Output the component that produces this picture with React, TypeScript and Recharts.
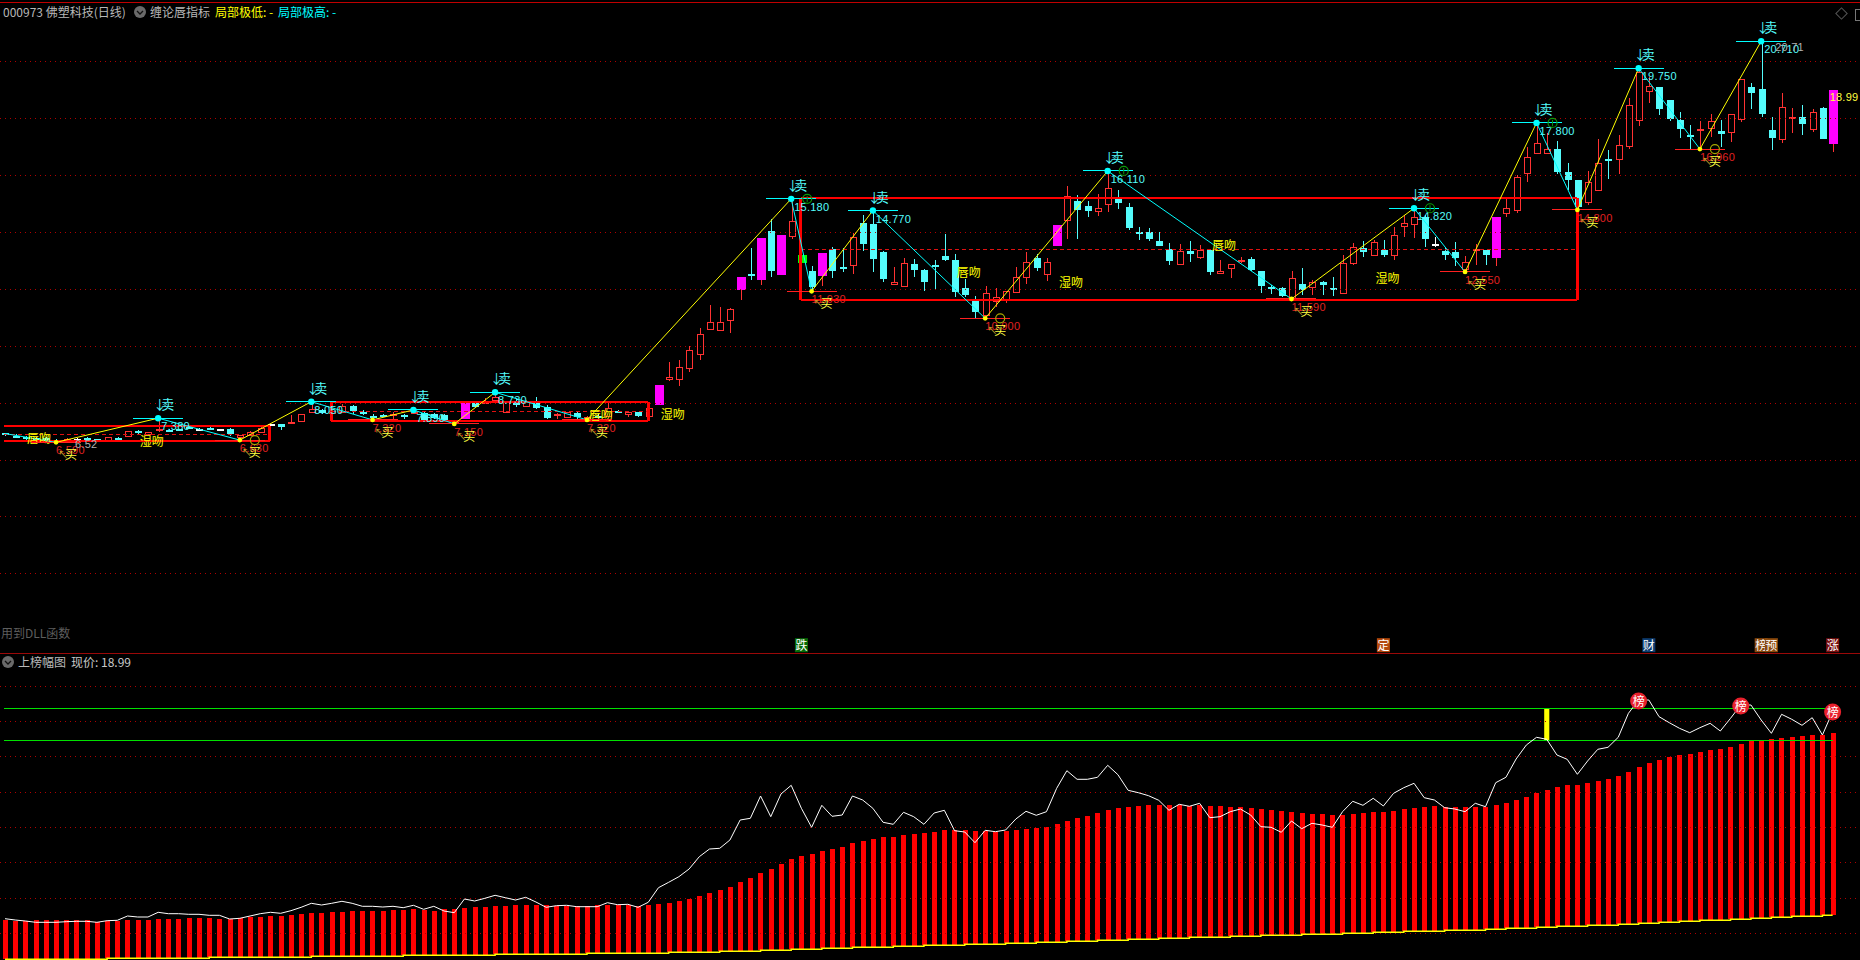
import { ComposedChart, Bar, Line, XAxis, YAxis, ReferenceLine, ReferenceDot, ReferenceArea } from 'recharts';

// ── price panel ─────────────────────────────────────────────────────
const highs = [
  6.95, 6.92, 6.83, 6.82, 6.80, 6.74, 6.78, 6.76, 6.80, 6.75,
  6.82, 6.80, 7.03, 7.04, 6.99, 7.47, 7.08, 7.10, 7.16, 7.14,
  7.15, 7.10, 7.12, 6.89, 7.01, 7.15, 7.28, 7.27, 7.58, 7.63,
  8.05, 7.78, 7.75, 7.97, 7.92, 7.76, 7.62, 7.60, 7.70, 7.60,
  7.76, 7.68, 7.64, 7.60, 7.36, 8.02, 8.03, 8.17, 8.38, 8.08,
  8.17, 8.10, 8.23, 7.95, 7.64, 7.70, 7.67, 7.55, 7.60, 8.03,
  7.75, 7.70, 7.70, 7.84, 8.64, 9.46, 9.52, 10.02, 10.64, 11.45,
  11.38, 11.34, 12.43, 13.44, 13.81, 14.46, 13.91, 15.18, 13.21, 12.82,
  13.28, 13.48, 13.45, 13.98, 14.61, 14.77, 13.33, 12.80, 13.09, 13.06,
  12.71, 13.03, 13.94, 13.23, 12.36, 11.77, 12.12, 12.04, 11.95, 12.77,
  13.30, 13.24, 13.09, 14.26, 15.63, 15.32, 15.10, 15.34, 16.16, 15.49,
  15.02, 14.18, 14.15, 14.03, 13.62, 13.58, 13.70, 13.56, 13.38, 13.03,
  12.88, 13.15, 13.12, 12.66, 12.15, 12.09, 12.64, 12.74, 12.33, 12.30,
  12.42, 13.21, 13.62, 13.70, 13.73, 13.73, 14.20, 14.61, 14.85, 14.62,
  13.85, 13.50, 13.65, 13.17, 13.58, 13.39, 14.53, 15.20, 16.02, 17.01,
  17.85, 17.48, 17.22, 16.43, 15.84, 16.16, 17.28, 16.90, 17.42, 18.71,
  19.77, 19.45, 19.10, 18.66, 18.24, 17.78, 17.93, 18.16, 17.95, 18.15,
  19.38, 19.24, 20.72, 18.05, 18.89, 18.36, 18.47, 18.34, 18.40, 19.01,
];
const opens = [
  6.94, 6.84, 6.81, 6.79, 6.77, 6.70, 6.67, 6.74, 6.79, 6.73,
  6.70, 6.79, 6.85, 7.02, 6.92, 7.05, 7.05, 7.08, 7.15, 7.10,
  7.12, 7.09, 7.08, 6.82, 6.88, 7.00, 7.26, 7.26, 7.29, 7.38,
  7.69, 7.76, 7.65, 7.70, 7.90, 7.68, 7.55, 7.58, 7.61, 7.58,
  7.66, 7.65, 7.61, 7.58, 7.30, 7.43, 8.00, 8.00, 8.10, 7.68,
  7.99, 7.90, 8.05, 7.87, 7.57, 7.52, 7.65, 7.47, 7.55, 7.54,
  7.72, 7.61, 7.69, 7.56, 7.93, 8.84, 8.84, 9.25, 9.74, 10.61,
  10.58, 10.93, 11.99, 12.55, 12.33, 14.05, 12.50, 13.87, 13.21, 12.64,
  12.47, 13.41, 12.80, 12.87, 14.33, 14.30, 13.31, 12.18, 12.13, 12.89,
  12.68, 12.86, 13.17, 13.03, 12.06, 11.59, 11.10, 11.59, 11.66, 11.92,
  12.44, 13.09, 12.55, 13.52, 14.45, 15.10, 14.93, 14.76, 15.01, 15.20,
  14.89, 14.03, 14.00, 13.70, 13.41, 12.90, 13.35, 13.15, 13.37, 12.56,
  12.74, 13.03, 13.06, 12.64, 12.07, 12.04, 11.68, 12.18, 12.07, 12.25,
  12.04, 11.88, 12.94, 13.46, 13.21, 13.38, 13.20, 14.24, 14.29, 14.55,
  13.58, 13.36, 13.30, 12.71, 13.39, 13.38, 13.11, 14.67, 14.79, 16.10,
  16.80, 16.78, 16.93, 16.11, 15.84, 15.08, 15.49, 16.59, 16.57, 17.05,
  17.95, 18.98, 19.10, 18.65, 17.95, 17.43, 17.63, 17.68, 17.57, 17.54,
  17.98, 19.11, 19.04, 17.60, 17.29, 18.05, 18.05, 17.63, 18.37, 17.11,
];
const closes = [
  6.88, 6.81, 6.74, 6.70, 6.66, 6.63, 6.74, 6.72, 6.77, 6.72,
  6.80, 6.77, 7.02, 6.96, 6.98, 7.10, 7.02, 7.06, 7.13, 7.09,
  7.10, 7.08, 6.90, 6.88, 7.00, 7.13, 7.24, 7.16, 7.35, 7.61,
  7.80, 7.65, 7.72, 7.90, 7.72, 7.66, 7.53, 7.52, 7.63, 7.50,
  7.70, 7.41, 7.48, 7.41, 7.33, 8.02, 7.87, 8.04, 8.22, 8.05,
  7.97, 8.08, 7.82, 7.47, 7.62, 7.68, 7.51, 7.52, 7.50, 7.83,
  7.71, 7.68, 7.55, 7.82, 8.64, 8.92, 9.26, 9.86, 10.42, 10.84,
  10.84, 11.30, 12.43, 12.52, 13.81, 12.64, 13.91, 14.40, 12.94, 12.09,
  13.28, 12.64, 12.78, 13.84, 13.59, 13.07, 12.37, 12.25, 12.91, 12.68,
  12.26, 12.84, 13.03, 11.92, 11.80, 11.21, 11.86, 11.74, 11.93, 12.42,
  12.95, 12.76, 12.95, 14.26, 15.27, 14.79, 14.75, 14.85, 15.55, 15.03,
  14.14, 14.00, 13.77, 13.52, 13.01, 13.34, 13.24, 13.37, 12.62, 12.63,
  12.88, 13.04, 12.68, 12.13, 12.05, 11.77, 12.39, 11.98, 12.25, 12.16,
  12.03, 12.94, 13.50, 13.32, 13.65, 13.21, 13.90, 14.32, 14.53, 13.77,
  13.57, 13.21, 13.11, 12.95, 13.40, 13.21, 14.53, 14.85, 15.94, 16.64,
  17.13, 16.92, 16.12, 15.84, 14.90, 15.76, 16.43, 16.58, 17.06, 18.47,
  19.65, 19.16, 18.35, 17.99, 17.64, 17.42, 17.64, 17.91, 17.47, 18.15,
  19.38, 18.90, 18.16, 17.32, 18.42, 18.07, 17.81, 18.22, 17.28, 19.01,
];
const lows = [
  6.84, 6.76, 6.72, 6.66, 6.63, 6.62, 6.65, 6.70, 6.65, 6.71,
  6.69, 6.71, 6.84, 6.88, 6.90, 7.00, 7.00, 7.05, 7.12, 7.05,
  7.06, 7.07, 6.85, 6.70, 6.86, 6.99, 7.20, 7.05, 7.27, 7.36,
  7.65, 7.60, 7.60, 7.68, 7.60, 7.58, 7.41, 7.50, 7.43, 7.43,
  7.60, 7.38, 7.45, 7.38, 7.26, 7.43, 7.85, 7.99, 8.05, 7.65,
  7.87, 7.88, 7.80, 7.45, 7.44, 7.50, 7.45, 7.41, 7.48, 7.52,
  7.68, 7.51, 7.51, 7.54, 7.93, 8.79, 8.61, 9.10, 9.53, 10.57,
  10.58, 10.48, 11.62, 12.33, 12.15, 12.44, 12.50, 13.77, 12.94, 11.93,
  12.12, 12.41, 12.62, 12.54, 13.36, 12.62, 12.26, 12.15, 12.09, 12.44,
  11.95, 12.01, 13.01, 11.74, 11.74, 10.99, 10.98, 11.39, 11.53, 11.90,
  12.19, 12.65, 12.29, 13.52, 13.77, 13.77, 14.54, 14.59, 14.73, 14.83,
  14.09, 13.73, 13.71, 13.52, 12.86, 12.88, 12.97, 13.06, 12.50, 12.54,
  12.41, 12.91, 12.65, 11.86, 11.84, 11.74, 11.66, 11.80, 11.80, 11.80,
  11.77, 11.86, 12.86, 13.15, 13.21, 13.15, 13.03, 13.85, 13.79, 13.50,
  13.50, 13.03, 12.83, 12.61, 12.86, 12.86, 12.83, 14.55, 14.69, 15.78,
  16.78, 16.76, 16.05, 15.49, 14.79, 14.96, 15.46, 15.88, 16.05, 16.93,
  17.74, 18.54, 18.13, 17.93, 17.33, 16.93, 16.93, 17.36, 17.01, 17.19,
  17.89, 18.33, 18.05, 16.90, 17.15, 17.48, 17.42, 17.54, 17.28, 16.84,
];
const limitUpDays = [45, 64, 72, 74, 76, 80, 103, 146, 179];
const limitDownDays = [78];
const whiteDays = [7, 19, 21, 26, 140];
const priceGrid = [20, 18, 16, 14, 12, 10, 8, 6, 4, 2];

// zigzag pivots, rising legs are yellow and falling legs cyan
const pivotDays = [0, 5, 15, 23, 30, 36, 40, 44, 48, 57, 77, 79, 85, 96, 108, 126, 138, 143, 150, 154, 160, 166, 172];
const pivotPrices = [6.93, 6.62, 7.47, 6.70, 8.05, 7.41, 7.76, 7.27, 8.38, 7.41, 15.18, 11.93, 14.77, 10.98, 16.16, 11.66, 14.85, 12.61, 17.85, 14.79, 19.77, 16.93, 20.72];

const sellDays = [15, 30, 40, 48, 77, 85, 108, 138, 150, 160, 172];
const sellPrices = [7.47, 8.05, 7.76, 8.38, 15.18, 14.77, 16.16, 14.85, 17.85, 19.77, 20.72];
const sellLabels = ['7.380', '8.050', '7.890', '8.730', '15.180', '14.770', '16.110', '14.820', '17.800', '19.750', '20.710'];
const buyDays = [5, 23, 36, 44, 57, 79, 96, 126, 143, 154, 166];
const buyPrices = [6.62, 6.70, 7.41, 7.27, 7.41, 11.93, 10.98, 11.66, 12.61, 14.79, 16.93];
const buyLabels = ['6.590', '6.630', '7.320', '7.150', '7.320', '11.930', '10.900', '11.590', '12.550', '14.800', '16.960'];
const greenRingSells = [77, 108, 138, 150];
const oliveRingBuys = [23, 96, 166];

// consolidation boxes
const boxStart = [-0.1, 31.93, 77.96];
const boxEnd = [25.95, 62.98, 154];
const boxTop = [7.21, 8.05, 15.22];
const boxBottom = [6.67, 7.38, 11.63];
const boxMid = [6.90, 7.71, 13.41];
const boxHasLeft = [false, true, true];

const kissDays = [3.33, 14.37, 58.34, 65.4, 94.4, 104.4, 119.4, 135.4];
const kissPrices = [6.77, 6.68, 7.58, 7.62, 12.6, 12.25, 13.56, 12.39];
const kissLabels = ['唇吻', '湿吻', '唇吻', '湿吻', '唇吻', '湿吻', '唇吻', '湿吻'];

const tagDays = [78, 135, 161, 172, 173, 179];
const tagLabels = ['跌', '定', '财', '榜', '预', '涨'];
const tagColours = ['#066b06', '#b54a0c', '#0c3c70', '#8c4a0c', '#8c4a0c', '#7a1010'];

// ── lower panel ─────────────────────────────────────────────────────
const barTops = [
  40, 39.3, 39.3, 40, 40, 40, 40, 40, 40, 38.3,
  39.3, 39, 40.3, 40, 40, 41, 41, 41, 42, 42,
  42, 41.3, 41.3, 42, 43, 43, 44, 44, 45, 46,
  47, 47, 48, 48, 49, 49, 49, 49, 50, 50,
  50.7, 50, 49, 50.7, 51, 52, 53, 53, 54, 54,
  55, 55, 55, 55, 54, 54, 54, 54, 55, 55,
  55, 55, 54, 55, 56, 57, 59, 61, 64, 67,
  70, 73, 78, 82, 87, 91, 96, 101, 104, 106,
  109, 111, 113, 117, 119, 121, 123, 123, 125, 126,
  127, 128, 130, 130, 130, 129, 129, 128, 129, 130,
  131, 132, 133, 136, 139, 142, 144, 147, 150, 152,
  153, 154, 155, 155, 155, 155, 154, 155, 154, 154,
  153, 153, 152, 151, 150, 149, 148, 147, 146, 146,
  145, 145, 146, 147, 148, 148, 149, 151, 152, 153,
  154, 153.3, 152.7, 153, 153, 153, 155, 157, 160, 163,
  167, 170, 173, 175, 175, 177, 179, 181, 184, 188,
  193, 197, 200, 203, 205, 206, 208, 210, 211, 213,
  216, 219, 219, 221, 222, 223, 224, 225, 225, 227,
];
const barBases = [
  0.7, 0.7, 0.7, 0.7, 0.7, 0.7, 0.7, 0.7, 0.7, 0.7,
  1.7, 1.7, 1.7, 1.7, 1.7, 1.7, 1.7, 1.7, 1.7, 1.7,
  2.7, 2.7, 2.7, 2.7, 2.7, 2.7, 2.7, 2.7, 2.7, 2.7,
  3.7, 3.7, 3.7, 3.7, 3.7, 3.7, 3.7, 3.7, 3.7, 4.7,
  4.7, 4.7, 4.7, 4.7, 4.7, 4.7, 4.7, 4.7, 5.7, 5.7,
  5.7, 5.7, 5.7, 5.7, 5.7, 5.7, 5.7, 6.7, 6.7, 6.7,
  6.7, 6.7, 6.7, 6.7, 6.7, 7.7, 7.7, 7.7, 7.7, 7.7,
  8.7, 8.7, 8.7, 8.7, 9.7, 9.7, 9.7, 10.7, 10.7, 10.7,
  11.7, 11.7, 11.7, 12.7, 12.7, 12.7, 12.7, 13.7, 13.7, 13.7,
  14.7, 14.7, 14.7, 14.7, 15.7, 15.7, 15.7, 15.7, 16.7, 16.7,
  16.7, 17.7, 17.7, 17.7, 18.7, 18.7, 18.7, 19.7, 19.7, 19.7,
  20.7, 20.7, 20.7, 21.7, 21.7, 21.7, 22.7, 22.7, 22.7, 22.7,
  23.7, 23.7, 23.7, 24.7, 24.7, 24.7, 24.7, 25.7, 25.7, 25.7,
  25.7, 26.7, 26.7, 26.7, 27.7, 27.7, 27.7, 28.7, 28.7, 28.7,
  28.7, 29.7, 29.7, 29.7, 29.7, 30.7, 30.7, 31.7, 31.7, 31.7,
  32.7, 32.7, 33.7, 33.7, 33.7, 34.7, 34.7, 34.7, 35.7, 35.7,
  36.7, 36.7, 37.7, 37.7, 38.7, 38.7, 39.7, 39.7, 39.7, 40.7,
  40.7, 41.7, 41.7, 42.7, 42.7, 43.7, 43.7, 43.7, 44.7, 44.7,
];
const whiteLine = [
  41.3, 40, 39, 37.7, 37.7, 37.7, 38.3, 38.7, 38.7, 37.7,
  39.3, 39.7, 44, 43, 43, 47.7, 46.3, 46.3, 45.7, 45.7,
  44.7, 44.7, 41, 41.7, 44, 46.3, 47.7, 46.7, 49.3, 52.7,
  56.7, 55, 56.7, 58.7, 56.7, 53.7, 53.7, 53, 53.7, 52.3,
  54.7, 50.7, 53.7, 49, 47.3, 61, 59, 61.7, 64.7, 62.3,
  60, 62.7, 58, 52.7, 54.3, 54.7, 53.3, 53.3, 53.3, 57.3,
  55.3, 55.7, 52.7, 57.7, 72.3, 77.7, 83.3, 91, 103.3, 111,
  111.7, 120, 140, 141.7, 164, 143.3, 166, 174.7, 151.7, 132.7,
  154.7, 143.7, 145, 164, 160, 151.7, 137.7, 135.7, 147.7, 143.3,
  135.7, 147, 149.7, 129.3, 128, 117.3, 129.7, 128.3, 130, 141,
  148.7, 144.7, 148.3, 171.7, 189.3, 180.7, 180.7, 182.7, 194.7, 185.3,
  169.7, 167.3, 164.3, 159.7, 149.7, 155.7, 153.7, 156.7, 142.3, 143.3,
  148.3, 151, 145, 133.3, 132.7, 127.7, 139, 131.3, 136.7, 135,
  132.7, 148.3, 158.7, 154.7, 161.7, 154, 166.7, 172.3, 176.7, 162.3,
  160, 152.3, 151, 148.3, 156.7, 153.3, 177.3, 182.7, 201, 215,
  222.7, 220.7, 205, 200.7, 185.7, 199, 210.7, 212.7, 222.7, 246.7,
  260, 260, 243.3, 237.3, 231.7, 227.3, 232.3, 236.7, 229, 241.7,
  255, 255, 240, 226.7, 245.7, 240.7, 234.7, 242.3, 225, 248.3,
];
const lowerGrid = [273.5, 238.5, 203.5, 167.5, 132.5, 97.5, 61.5, 26.5];
const greenLevels = [251.5, 219.5];
const signalDay = 151;
const badgeDays = [160, 170, 179];
const badgeValues = [259, 254, 248];

const priceData = highs.map((h, i) => ({ i, high: h, low: lows[i], open: opens[i], close: closes[i] }));
const lowerData = barTops.map((t, i) => ({ i, top: t, base: barBases[i], white: whiteLine[i] }));

const CHART_W = 1860;
const X_DOMAIN: [number, number] = [-0.49, 181.68];
const CN = '"Noto Sans CJK SC", "Liberation Sans", sans-serif';
const NUM = '"Liberation Sans", sans-serif';
const RED = '#ff3232';
const CYAN = '#54fcfc';

function Candle(props: any) {
  const { x, y, width, height, payload } = props;
  const { i, high, low, open, close } = payload;
  const cx = Math.round(x + width / 2) + 0.5;
  const perUnit = height / (high - low);
  const top = Math.round(y + (high - Math.max(open, close)) * perUnit);
  const bot = Math.round(y + (high - Math.min(open, close)) * perUnit);
  const up = close >= open;
  if (limitUpDays.includes(i)) {
    return (
      <g shapeRendering="crispEdges">
        <line x1={cx} x2={cx} y1={y} y2={y + height} stroke={RED} />
        <rect x={cx - 4.5} y={top} width={9} height={bot - top} fill="#ff00ff" />
      </g>
    );
  }
  if (limitDownDays.includes(i)) {
    return <rect x={cx - 4.5} y={top} width={9} height={bot - top} fill="#00ff00" shapeRendering="crispEdges" />;
  }
  const colour = whiteDays.includes(i) ? '#ffffff' : up ? RED : CYAN;
  return (
    <g shapeRendering="crispEdges">
      <line x1={cx} x2={cx} y1={y} y2={y + height} stroke={colour} />
      {bot - top < 2 ? (
        <rect x={cx - 3.5} y={top} width={7} height={1.5} fill={colour} />
      ) : up ? (
        <rect x={cx - 3} y={top + 0.5} width={6} height={bot - top} fill="#000" stroke={colour} />
      ) : (
        <rect x={cx - 3.5} y={top} width={7} height={bot - top} fill={colour} />
      )}
    </g>
  );
}

function SellMark({ cx, cy, label, ring, grey }: any) {
  return (
    <g fontFamily={CN}>
      <line x1={cx - 25} x2={cx + 25} y1={cy} y2={cy} stroke="#00ffff" shapeRendering="crispEdges" />
      <circle cx={cx} cy={cy} r={3.2} fill="#00ffff" />
      <text x={cx - 5} y={cy - 9} fill={CYAN} fontSize={13} letterSpacing={-5}>↓卖</text>
      <text x={cx + 3} y={cy + 12} fill={CYAN} fontSize={11} fontFamily={NUM} letterSpacing={0.25}>{label}</text>
      {ring && <circle cx={cx + 16} cy={cy} r={4.5} fill="none" stroke="#0a9a0a" strokeWidth={1.2} />}
      {ring && <line x1={cx + 16} x2={cx + 16} y1={cy - 3} y2={cy + 3} stroke="#0a9a0a" />}
      {grey && <text x={cx + 14} y={cy + 10} fill="#b0b0b0" fontSize={11} fontFamily={NUM} letterSpacing={0.25}>{grey}</text>}
    </g>
  );
}

function BuyMark({ cx, cy, label, ring, grey }: any) {
  return (
    <g fontFamily={CN}>
      <line x1={cx - 25} x2={cx + 25} y1={cy} y2={cy} stroke="#ff2020" shapeRendering="crispEdges" />
      <text x={cx} y={cy + 12} fill="#e02020" fontSize={11} fontFamily={NUM} letterSpacing={0.25}>{label}</text>
      <text x={cx + 2} y={cy + 16} fill="#c8a428" fontSize={10}>↖</text>
      <text x={cx + 9} y={cy + 17} fill="#ffff40" fontSize={12}>买</text>
      <circle cx={cx} cy={cy} r={2.4} fill="#ffff00" />
      {ring && <circle cx={cx + 15} cy={cy} r={4.5} fill="none" stroke="#a8a800" strokeWidth={1.2} />}
      {grey && <text x={cx + 19} y={cy + 6} fill="#b0b0b0" fontSize={11} fontFamily={NUM} letterSpacing={0.25}>{grey}</text>}
    </g>
  );
}

function Icon({ x, y }: { x: number; y: number }) {
  return (
    <svg width={12} height={12} style={{ position: 'absolute', left: x - 6, top: y - 6 }}>
      <circle cx={6} cy={6} r={6} fill="#6a6a6a" />
      <path d="M3 5 L6 8 L9 5" fill="none" stroke="#111" strokeWidth={1.3} />
    </svg>
  );
}

function Label({ x, y, colour, children, size = 12 }: any) {
  return (
    <div style={{ position: 'absolute', left: x, top: y, color: colour, fontFamily: CN, fontSize: size, lineHeight: '14px', whiteSpace: 'nowrap' }}>
      {children}
    </div>
  );
}

export default function App() {
  return (
    <div style={{ position: 'absolute', left: 0, top: 0, width: 1860, height: 960, background: '#000', overflow: 'hidden' }}>
      <div style={{ position: 'absolute', left: 0, top: 2, width: 1860, height: 1, background: '#c00000' }} />
      <div style={{ position: 'absolute', left: 0, top: 653, width: 1860, height: 1, background: '#9a0808' }} />

      <div style={{ position: 'absolute', left: 0, top: 0 }}>
        <ComposedChart width={CHART_W} height={653} data={priceData} margin={{ top: 0, right: 0, bottom: 0, left: 0 }}>
          <XAxis dataKey="i" type="number" domain={X_DOMAIN} hide allowDataOverflow />
          <YAxis type="number" domain={[-0.784, 22.17]} hide allowDataOverflow />
          {priceGrid.map(v => (
            <ReferenceLine key={v} y={v} stroke="#b00000" strokeDasharray="1 4" shapeRendering="crispEdges" />
          ))}
          {boxStart.map((s, b) => (
            <ReferenceLine key={`mid${b}`} segment={[{ x: s, y: boxMid[b] }, { x: boxEnd[b], y: boxMid[b] }]} stroke="#e01010" strokeDasharray="4 3" shapeRendering="crispEdges" />
          ))}
          <Bar dataKey={(d: any) => [d.low, d.high]} barSize={9} shape={Candle} isAnimationActive={false} />
          {boxStart.map((s, b) => (
            <ReferenceLine key={`top${b}`} segment={[{ x: s, y: boxTop[b] }, { x: boxEnd[b], y: boxTop[b] }]} stroke="#ff0000" strokeWidth={2} shapeRendering="crispEdges" />
          ))}
          {boxStart.map((s, b) => (
            <ReferenceLine key={`bot${b}`} segment={[{ x: s, y: boxBottom[b] }, { x: boxEnd[b], y: boxBottom[b] }]} stroke="#ff0000" strokeWidth={2} shapeRendering="crispEdges" />
          ))}
          {boxStart.map((s, b) => (
            <ReferenceLine key={`right${b}`} segment={[{ x: boxEnd[b], y: boxTop[b] }, { x: boxEnd[b], y: boxBottom[b] }]} stroke="#ff0000" strokeWidth={3} shapeRendering="crispEdges" />
          ))}
          {boxStart.map((s, b) => boxHasLeft[b] && (
            <ReferenceLine key={`left${b}`} segment={[{ x: s, y: boxTop[b] }, { x: s, y: boxBottom[b] }]} stroke="#ff0000" strokeWidth={3} shapeRendering="crispEdges" />
          ))}
          {pivotDays.slice(1).map((d, n) => (
            <Line
              key={`leg${n}`}
              data={[{ i: pivotDays[n], p: pivotPrices[n] }, { i: d, p: pivotPrices[n + 1] }]}
              dataKey="p"
              stroke={pivotPrices[n + 1] > pivotPrices[n] ? '#ffff00' : '#00ffff'}
              strokeWidth={1}
              dot={false}
              activeDot={false}
              legendType="none"
              isAnimationActive={false}
            />
          ))}
          {kissDays.map((d, n) => (
            <ReferenceDot
              key={`kiss${n}`}
              x={d}
              y={kissPrices[n]}
              shape={(p: any) => (
                <text x={p.cx} y={p.cy + 5} textAnchor="middle" fill="#ffff00" fontSize={12} fontFamily={CN}>{kissLabels[n]}</text>
              )}
            />
          ))}
          {sellDays.map((d, n) => (
            <ReferenceDot
              key={`sell${n}`}
              x={d}
              y={sellPrices[n]}
              shape={(p: any) => (
                <SellMark cx={p.cx} cy={p.cy} label={sellLabels[n]} ring={greenRingSells.includes(d)} grey={d === 172 ? '20.71' : undefined} />
              )}
            />
          ))}
          {buyDays.map((d, n) => (
            <ReferenceDot
              key={`buy${n}`}
              x={d}
              y={buyPrices[n]}
              shape={(p: any) => (
                <BuyMark cx={p.cx} cy={p.cy} label={buyLabels[n]} ring={oliveRingBuys.includes(d)} grey={d === 5 ? '6.52' : undefined} />
              )}
            />
          ))}
          <ReferenceDot
            x={179}
            y={18.99}
            shape={(p: any) => (
              <text x={p.cx - 3} y={p.cy + 11} fill="#ffff40" fontSize={11} fontFamily={NUM} letterSpacing={0.25}>18.99</text>
            )}
          />
          {tagDays.map((d, n) => (
            <ReferenceDot
              key={`tag${n}`}
              x={d}
              y={-0.51}
              shape={(p: any) => (
                <g>
                  <rect x={p.cx - 6.5} y={p.cy - 7} width={13} height={14} fill={tagColours[n]} />
                  <text x={p.cx} y={p.cy + 4.5} textAnchor="middle" fill="#fff" fontSize={12} fontFamily={CN}>{tagLabels[n]}</text>
                </g>
              )}
            />
          ))}
        </ComposedChart>
      </div>

      <div style={{ position: 'absolute', left: 0, top: 654 }}>
        <ComposedChart width={CHART_W} height={306} data={lowerData} margin={{ top: 0, right: 0, bottom: 0, left: 0 }}>
          <XAxis dataKey="i" type="number" domain={X_DOMAIN} hide allowDataOverflow />
          <YAxis type="number" domain={[0, 306]} hide allowDataOverflow />
          {lowerGrid.map(v => (
            <ReferenceLine key={v} y={v} stroke="#b00000" strokeDasharray="1 4" shapeRendering="crispEdges" />
          ))}
          <Bar dataKey={(d: any) => [d.base, d.top]} barSize={5} fill="#ff0000" shapeRendering="crispEdges" isAnimationActive={false} />
          {greenLevels.map(v => (
            <ReferenceLine key={v} segment={[{ x: -0.1, y: v }, { x: 179, y: v }]} stroke="#00e000" shapeRendering="crispEdges" />
          ))}
          <ReferenceArea x1={signalDay - 0.25} x2={signalDay + 0.25} y1={greenLevels[1]} y2={greenLevels[0]} fill="#ffff00" fillOpacity={1} stroke="none" />
          <Line dataKey="base" type="stepAfter" stroke="#ffff00" strokeWidth={1.5} dot={false} activeDot={false} isAnimationActive={false} />
          <Line dataKey="white" type="linear" stroke="#ffffff" strokeWidth={1} dot={false} activeDot={false} isAnimationActive={false} />
          {badgeDays.map((d, n) => (
            <ReferenceDot
              key={`badge${n}`}
              x={d}
              y={badgeValues[n]}
              shape={(p: any) => (
                <g>
                  <circle cx={p.cx} cy={p.cy} r={8.5} fill="#e8202c" />
                  <text x={p.cx} y={p.cy + 4.5} textAnchor="middle" fill="#fff" fontSize={12} fontFamily={CN}>榜</text>
                </g>
              )}
            />
          ))}
        </ComposedChart>
      </div>

      <Label x={3} y={5} colour="#b8b8b8">000973 佛塑科技(日线)</Label>
      <Icon x={140} y={12} />
      <Label x={150} y={5} colour="#b8b8b8">缠论唇指标</Label>
      <Label x={215} y={5} colour="#ffff00">局部极低: -</Label>
      <Label x={278} y={5} colour="#00ffff">局部极高: -</Label>
      <Label x={1} y={626} colour="#5e5e5e">用到DLL函数</Label>
      <Icon x={8} y={662} />
      <Label x={18} y={655} colour="#b8b8b8">上榜幅图</Label>
      <Label x={71} y={655} colour="#c8c8c8">现价: 18.99</Label>
      <div style={{ position: 'absolute', left: 1837, top: 9, width: 7, height: 7, border: '1px solid #555', transform: 'rotate(45deg)' }} />
      <div style={{ position: 'absolute', left: 1855, top: 9, width: 8, height: 10, border: '1px solid #777' }} />
    </div>
  );
}
